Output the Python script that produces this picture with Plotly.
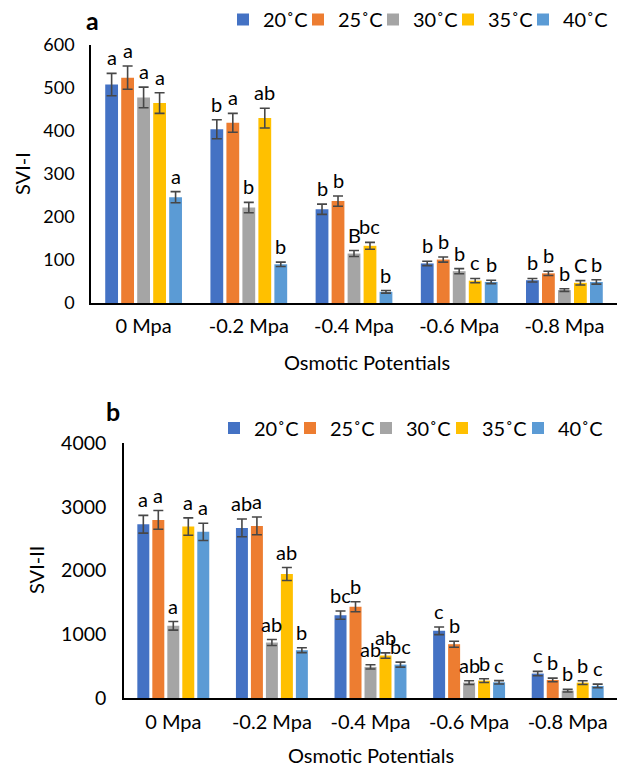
import plotly.graph_objects as go

categories = ["0 Mpa", "-0.2 Mpa", "-0.4 Mpa", "-0.6 Mpa", "-0.8 Mpa"]
series_names = ["20˚C", "25˚C", "30˚C", "35˚C", "40˚C"]
colors = ["#4472C4", "#ED7D31", "#A5A5A5", "#FFC000", "#5B9BD5"]

# Panel a: SVI-I (rows = temperature series, columns = categories)
svi1_vals = [
    [508, 404, 218, 92, 53],
    [524, 419, 237, 101, 69],
    [478, 222, 115, 74, 30],
    [465, 430, 133, 52, 47],
    [246, 90, 26, 49, 49],
]
svi1_err = [
    [26, 22, 12, 5, 4],
    [27, 22, 12, 6, 5],
    [24, 12, 7, 6, 3],
    [24, 23, 8, 5, 5],
    [13, 5, 3, 4, 5],
]
svi1_letters = [
    ["a", "b", "b", "b", "b"],
    ["a", "a", "b", "b", "b"],
    ["a", "b", "B", "b", "b"],
    ["a", "ab", "bc", "c", "C"],
    ["a", "b", "b", "b", "b"],
]

# Panel b: SVI-II
svi2_vals = [
    [2726, 2668, 1300, 1054, 383],
    [2794, 2700, 1431, 844, 283],
    [1132, 870, 488, 241, 115],
    [2689, 1945, 666, 273, 241],
    [2606, 750, 524, 246, 189],
]
svi2_err = [
    [139, 139, 65, 60, 34],
    [147, 139, 79, 47, 29],
    [68, 47, 34, 29, 21],
    [136, 102, 42, 29, 29],
    [136, 39, 39, 26, 29],
]
svi2_letters = [
    ["a", "ab", "bc", "c", "c"],
    ["a", "a", "b", "b", "b"],
    ["a", "ab", "ab", "ab", "b"],
    ["a", "ab", "ab", "b", "b"],
    ["a", "b", "bc", "c", "c"],
]

FONT = "Lato"
W, H = 617, 769
BARGAP = 0.24
BARGROUPGAP = 0.2

fig = go.Figure()

panels = [
    dict(vals=svi1_vals, err=svi1_err, letters=svi1_letters, xa="x", ya="y", legend="legend"),
    dict(vals=svi2_vals, err=svi2_err, letters=svi2_letters, xa="x2", ya="y2", legend="legend2"),
]

annotations = []
n = len(series_names)
group_w = 1 - BARGAP
slot = group_w / n
for p in panels:
    for i, name in enumerate(series_names):
        fig.add_trace(go.Bar(
            x=categories, y=p["vals"][i], name=name,
            marker=dict(color=colors[i], line=dict(width=0)),
            error_y=dict(type="data", array=p["err"][i], visible=True,
                         color="#474747", thickness=1.6, width=5),
            xaxis=p["xa"], yaxis=p["ya"], legend=p["legend"],
            legendwidth=(60 if i == n - 1 else None),
        ))
        for j, cat in enumerate(categories):
            xpos = j - group_w / 2 + slot * (i + 0.5)
            annotations.append(dict(
                x=xpos, y=p["vals"][i][j] + p["err"][i][j],
                xref=p["xa"], yref=p["ya"], text=p["letters"][i][j],
                showarrow=False, yanchor="bottom", xanchor="center", yshift=2,
                font=dict(family=FONT, size=20, color="#000000"),
            ))


def paper_text(x, y, text, size=20, angle=0, bold=False):
    return dict(x=x / W, y=1 - y / H, xref="paper", yref="paper",
                text=f"<b>{text}</b>" if bold else text, textangle=angle,
                xanchor="center", yanchor="middle", showarrow=False,
                font=dict(family=FONT, size=size, color="black"))


annotations += [
    paper_text(92, 20, "a", size=25, bold=True),
    paper_text(113, 411, "b", size=25, bold=True),
    paper_text(22, 174, "SVI-I", angle=-90),
    paper_text(36, 570, "SVI-II", angle=-90),
    paper_text(367, 362, "Osmotic Potentials"),
    paper_text(371, 755, "Osmotic Potentials"),
]

axis_common = dict(showline=True, linecolor="black", linewidth=1.5, showgrid=False,
                   zeroline=False, ticks="", automargin=False)

fig.update_layout(
    width=W, height=H,
    margin=dict(l=0, r=0, t=0, b=0, autoexpand=False),
    paper_bgcolor="white", plot_bgcolor="white",
    font=dict(family=FONT, color="black"),
    barmode="group", bargap=BARGAP, bargroupgap=BARGROUPGAP,
    xaxis=dict(domain=[91 / W, 1], anchor="y", tickfont=dict(size=20),
               ticklabelstandoff=4, **axis_common),
    yaxis=dict(domain=[1 - 303 / H, 1 - 45 / H], anchor="x", range=[0, 600], dtick=100,
               tickfont=dict(size=18), ticklabelstandoff=11, **axis_common),
    xaxis2=dict(domain=[124 / W, 1], anchor="y2", tickfont=dict(size=20),
                ticklabelstandoff=5, **axis_common),
    yaxis2=dict(domain=[1 - 698 / H, 1 - 443 / H], anchor="x2", range=[0, 4000], dtick=1000,
                tickfont=dict(size=19.5), ticklabelstandoff=12, **axis_common),
    legend=dict(orientation="h", x=223 / W, y=1 - 19.5 / H, xanchor="left", yanchor="middle",
                entrywidth=30, entrywidthmode="pixels", itemwidth=30,
                font=dict(family=FONT, size=20), bgcolor="rgba(0,0,0,0)"),
    legend2=dict(orientation="h", x=214 / W, y=1 - 428 / H, xanchor="left", yanchor="middle",
                 entrywidth=31, entrywidthmode="pixels", itemwidth=30,
                 font=dict(family=FONT, size=20), bgcolor="rgba(0,0,0,0)"),
    annotations=annotations,
    showlegend=True,
)

fig.write_html("out.html")
